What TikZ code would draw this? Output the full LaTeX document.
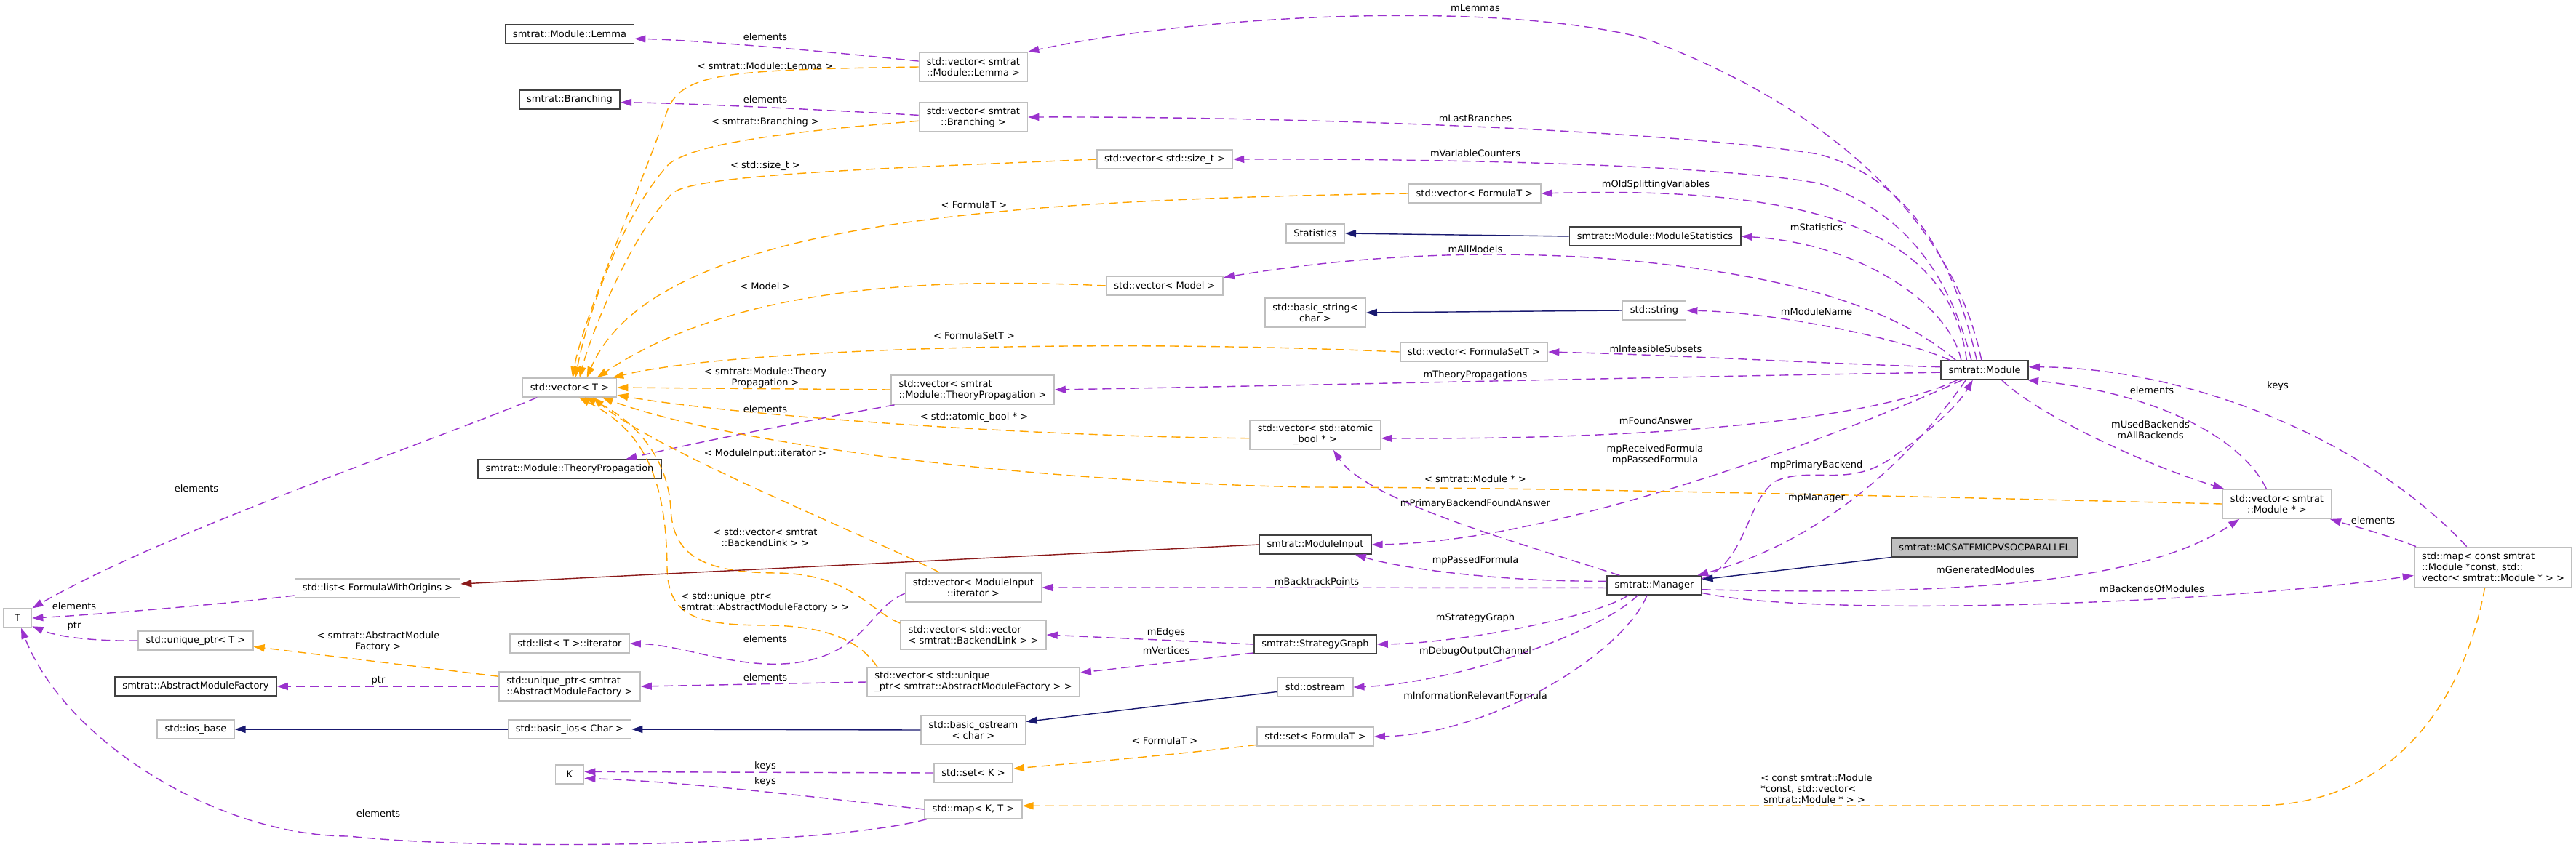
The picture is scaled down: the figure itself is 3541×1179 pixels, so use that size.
\documentclass[tikz,border=0pt]{standalone}
\usepackage{fontspec}
\setmainfont{DejaVu Sans}
\usetikzlibrary{arrows.meta}
\definecolor{usecol}{HTML}{9A32CD}
\definecolor{tmplcol}{HTML}{FFA500}
\definecolor{inhcol}{HTML}{191970}
\definecolor{privcol}{HTML}{8B1A1A}
\definecolor{boxgray}{HTML}{BFBFBF}
\definecolor{boxdark}{HTML}{404040}
\newcommand{\graphfont}{\fontsize{6.5pt}{7.5pt}\selectfont}

\begin{document}
\begin{tikzpicture}[x=0.5pt,y=-0.5pt,
 cls/.style={draw=boxgray,line width=0.9pt,font=\graphfont,inner xsep=5.2pt,inner ysep=1pt,minimum width=19.5pt,minimum height=12.75pt},
 doc/.style={cls,draw=boxdark},
 twoline/.style={minimum height=20pt},
 threeline/.style={minimum height=27.5pt},
 lab/.style={font=\graphfont,inner sep=0pt,align=center},
 member/.style={draw=usecol,line width=0.7pt,dash pattern=on 6pt off 3.5pt,-{Triangle[length=7.5pt,width=5pt]}},
 tmpl/.style={member,draw=tmplcol},
 inh/.style={draw=inhcol,line width=0.7pt,-{Triangle[length=7.5pt,width=5pt]}},
 priv/.style={inh,draw=privcol}]
\path[use as bounding box,fill=white] (0,0) rectangle (3541,1179);
\node[doc] (lemma) at (783,47) {smtrat::Module::Lemma};
\node[doc] (branch) at (783,137) {smtrat::Branching};
\node[cls] (vecT) at (783,533) {std::vector< T >};
\node[doc] (tprop) at (783,645) {smtrat::Module::TheoryPropagation};
\node[cls] (fwo) at (519,809) {std::list< FormulaWithOrigins >};
\node[cls] (T) at (24,850) {T};
\node[cls] (upT) at (269,881) {std::unique\_ptr< T >};
\node[cls] (litr) at (783,885) {std::list< T >::iterator};
\node[doc] (amf) at (269,944) {smtrat::AbstractModuleFactory};
\node[cls,twoline,align=left] (upAmf) at (783,944) {std::unique\_ptr< smtrat\\::AbstractModuleFactory >};
\node[cls] (iosb) at (269,1003) {std::ios\_base};
\node[cls] (bios) at (783,1003) {std::basic\_ios< Char >};
\node[cls] (K) at (783,1065) {K};
\node[cls,twoline,align=center] (vLemma) at (1338,92) {std::vector< smtrat\\::Module::Lemma >};
\node[cls,twoline,align=center] (vBranch) at (1338,161) {std::vector< smtrat\\::Branching >};
\node[cls] (vSize) at (1601,219) {std::vector< std::size\_t >};
\node[cls] (vForm) at (2027,266) {std::vector< FormulaT >};
\node[cls] (stats) at (1808,321) {Statistics};
\node[doc] (mstats) at (2275,325) {smtrat::Module::ModuleStatistics};
\node[cls] (vModel) at (1601,393) {std::vector< Model >};
\node[cls,twoline,align=center] (bstr) at (1808,430) {std::basic\_string<\\char >};
\node[cls] (str) at (2274,427) {std::string};
\node[cls] (vFset) at (2026,484) {std::vector< FormulaSetT >};
\node[doc] (module) at (2728,509) {smtrat::Module};
\node[cls,twoline,align=left] (vTprop) at (1337,536) {std::vector< smtrat\\::Module::TheoryPropagation >};
\node[cls,twoline,align=center] (vAtomic) at (1808,598) {std::vector< std::atomic\\\_bool * >};
\node[cls,twoline,align=center] (vModp) at (3130,693) {std::vector< smtrat\\::Module * >};
\node[doc] (minput) at (1808,749) {smtrat::ModuleInput};
\node[doc,fill=boxgray] (mcsat) at (2728,753) {smtrat::MCSATFMICPVSOCPARALLEL};
\node[doc] (manager) at (2274,805) {smtrat::Manager};
\node[cls,threeline,align=left] (mapMod) at (3427,780) {std::map< const smtrat\\::Module *const, std::\\vector< smtrat::Module * > >};
\node[cls,twoline,align=center] (vMiIt) at (1338,808) {std::vector< ModuleInput\\::iterator >};
\node[cls,twoline,align=left] (vvBl) at (1338,873) {std::vector< std::vector\\< smtrat::BackendLink > >};
\node[doc] (sgraph) at (1808,886) {smtrat::StrategyGraph};
\node[cls,twoline,align=left] (vUpAmf) at (1338,938) {std::vector< std::unique\\\_ptr< smtrat::AbstractModuleFactory > >};
\node[cls] (ostr) at (1808,945) {std::ostream};
\node[cls,twoline,align=center] (bostr) at (1338,1004) {std::basic\_ostream\\< char >};
\node[cls] (sForm) at (1808,1013) {std::set< FormulaT >};
\node[cls] (setK) at (1338,1063) {std::set< K >};
\node[cls] (mapKT) at (1338,1113) {std::map< K, T >};
\draw[member] (vLemma.174) .. controls (1150,72) and (960,55) .. (lemma.-4);
\draw[member] (vBranch.178) .. controls (1150,152) and (950,142) .. (branch.-3);
\draw[member] (vecT.197) .. controls (560,620) and (230,730) .. (T.north east);
\draw[member] (fwo.185) .. controls (300,832) and (120,846) .. (T.east);
\draw[member] (upT.west) .. controls (130,882) and (80,876) .. (T.-29);
\draw[member] (mapKT.-168) .. controls (1130,1165) and (660,1170) .. (480,1150) .. controls (300,1150) and (90,1020) .. (T.-70);
\draw[member] (vTprop.-169) .. controls (1100,580) and (950,610) .. (tprop.10);
\draw[member] (vMiIt.185) .. controls (1195,835) and (1190,900) .. (1090,912) .. controls (1010,920) and (940,887) .. (litr.east);
\draw[member] (vUpAmf.west) -- (upAmf.east);
\draw[member] (upAmf.west) -- (amf.east);
\draw[member] (setK.west) -- (K.10);
\draw[member] (mapKT.west) .. controls (1150,1100) and (950,1075) .. (K.-15);
\draw[member] (module.107) .. controls (2690,330) and (2550,160) .. (2259,52) .. controls (2050,0) and (1650,20) .. (vLemma.north east);
\draw[member] (module.128) .. controls (2690,380) and (2640,250) .. (2500,212) .. controls (2300,180) and (1800,160) .. (vBranch.east);
\draw[member] (module.143) .. controls (2680,380) and (2620,290) .. (2500,252) .. controls (2350,225) and (1950,218) .. (vSize.east);
\draw[member] (module.151) .. controls (2680,320) and (2500,255) .. (vForm.east);
\draw[member] (module.157) .. controls (2680,420) and (2560,335) .. (mstats.east);
\draw[member] (module.161) .. controls (2600,420) and (2450,375) .. (2200,355) .. controls (1980,340) and (1800,362) .. (vModel.8);
\draw[member] (module.164) .. controls (2620,468) and (2450,430) .. (str.east);
\draw[member] (module.176) .. controls (2500,500) and (2300,488) .. (vFset.east);
\draw[member] (module.183) .. controls (2300,518) and (1800,530) .. (vTprop.east);
\draw[member] (module.-160) .. controls (2580,575) and (2300,605) .. (vAtomic.-3);
\draw[member] (module.-156) .. controls (2550,590) and (2150,745) .. (minput.east);
\draw[member] (module.-152) .. controls (2620,640) and (2500,745) .. (manager.13);
\draw[member] (manager.8) .. controls (2400,775) and (2400,690) .. (2440,662) .. controls (2490,640) and (2540,672) .. (2600,630) .. controls (2650,595) and (2690,560) .. (module.-140);
\draw[member] (module.-30) .. controls (2800,570) and (2950,640) .. (vModp.164);
\draw[member] (vModp.125) .. controls (3080,600) and (2960,540) .. (module.-13);
\draw[member] (mapMod.142) .. controls (3250,600) and (3000,505) .. (module.4);
\draw[member] (mapMod.165) .. controls (3280,735) and (3230,722) .. (vModp.-16);
\draw[member] (manager.164) .. controls (2100,750) and (1880,690) .. (vAtomic.-40);
\draw[member] (manager.175) .. controls (2050,800) and (1920,780) .. (minput.-14);
\draw[member] (manager.183) -- (vMiIt.east);
\draw[member] (manager.-159) .. controls (2190,850) and (2000,885) .. (sgraph.east);
\draw[member] (manager.-149) .. controls (2200,870) and (2000,940) .. (ostr.east);
\draw[member] (manager.-126) .. controls (2230,900) and (2050,1010) .. (sForm.east);
\draw[member] (manager.-5) .. controls (2700,820) and (2950,800) .. (vModp.-158);
\draw[member] (manager.-9) .. controls (2500,850) and (3050,830) .. (mapMod.186);
\draw[member] (sgraph.west) -- (vvBl.east);
\draw[member] (sgraph.188) -- (vUpAmf.5);
\draw[tmpl] (vLemma.west) .. controls (1000,96) and (940,100) .. (918,150) .. controls (880,260) and (800,440) .. (vecT.73);
\draw[tmpl] (vBranch.184) .. controls (1100,180) and (960,195) .. (920,225) .. controls (860,290) and (810,420) .. (vecT.60);
\draw[tmpl] (vSize.west) .. controls (1200,232) and (960,240) .. (925,265) .. controls (870,320) and (815,450) .. (vecT.45);
\draw[tmpl] (vForm.west) .. controls (1400,275) and (900,300) .. (vecT.30);
\draw[tmpl] (vModel.west) .. controls (1250,380) and (1000,400) .. (vecT.20);
\draw[tmpl] (vFset.west) .. controls (1500,465) and (1000,480) .. (vecT.13);
\draw[tmpl] (vTprop.west) -- (vecT.east);
\draw[tmpl] (vAtomic.183) .. controls (1400,600) and (1000,570) .. (vecT.-9);
\draw[tmpl] (vModp.west) .. controls (2600,682) and (2100,670) .. (1800,670) .. controls (1400,662) and (1000,610) .. (vecT.-17);
\draw[tmpl] (vMiIt.156) .. controls (1200,740) and (900,620) .. (vecT.-23);
\draw[tmpl] (vvBl.171) .. controls (1195,840) and (1170,790) .. (1070,788) .. controls (960,788) and (925,760) .. (922,700) .. controls (918,620) and (860,570) .. (vecT.-33);
\draw[tmpl] (vUpAmf.171) .. controls (1190,895) and (1160,862) .. (1060,860) .. controls (960,860) and (918,850) .. (917,780) .. controls (916,650) and (880,590) .. (vecT.-47);
\draw[tmpl] (upAmf.172) -- (upT.-6.5);
\draw[tmpl] (sForm.188) .. controls (1600,1040) and (1450,1052) .. (setK.6);
\draw[tmpl] (mapMod.-112) .. controls (3390,950) and (3300,1108) .. (3100,1108) -- (mapKT.4);
\draw[inh] (mstats.west) -- (stats.east);
\draw[inh] (str.west) -- (bstr.east);
\draw[inh] (ostr.187) -- (bostr.9);
\draw[inh] (bostr.west) -- (bios.east);
\draw[inh] (bios.west) -- (iosb.east);
\draw[inh] (mcsat.186) -- (manager.7);
\draw[priv] (minput.west) -- (fwo.3);
\node[lab] (l1) at (1052,51) {elements};
\node[lab] (l2) at (1052,91) {< smtrat::Module::Lemma >};
\node[lab] (l3) at (1052,137) {elements};
\node[lab] (l4) at (1052,168) {< smtrat::Branching >};
\node[lab] (l5) at (1052,228) {< std::size\_t >};
\node[lab] (l6) at (1339,282) {< FormulaT >};
\node[lab] (l7) at (1052,394) {< Model >};
\node[lab] (l8) at (1339,462) {< FormulaSetT >};
\node[lab] (l9) at (1052,519) {< smtrat::Module::Theory\\Propagation >};
\node[lab] (l10) at (1052,563) {elements};
\node[lab] (l11) at (1339,574) {< std::atomic\_bool * >};
\node[lab] (l12) at (1052,624) {< ModuleInput::iterator >};
\node[lab] (l13) at (1052,739) {< std::vector< smtrat\\::BackendLink > >};
\node[lab,align=left] (l14) at (1052,828) {< std::unique\_ptr<\\smtrat::AbstractModuleFactory > >};
\node[lab] (l15) at (1052,879) {elements};
\node[lab] (l16) at (1052,932) {elements};
\node[lab] (l17) at (1052,1054) {keys};
\node[lab] (l18) at (1052,1075) {keys};
\node[lab] (l19) at (1601,1019) {< FormulaT >};
\node[lab] (l20) at (1603,870) {mEdges};
\node[lab] (l21) at (1603,895) {mVertices};
\node[lab] (l22) at (1810,800) {mBacktrackPoints};
\node[lab] (l23) at (270,672) {elements};
\node[lab] (l24) at (102,834) {elements};
\node[lab] (l25) at (102,861) {ptr};
\node[lab] (l26) at (520,882) {< smtrat::AbstractModule\\Factory >};
\node[lab] (l27) at (520,936) {ptr};
\node[lab] (l28) at (520,1119) {elements};
\node[lab] (l29) at (2028,11) {mLemmas};
\node[lab] (l30) at (2028,163) {mLastBranches};
\node[lab] (l31) at (2028,211) {mVariableCounters};
\node[lab] (l32) at (2276,254) {mOldSplittingVariables};
\node[lab] (l33) at (2497,313) {mStatistics};
\node[lab] (l34) at (2028,343) {mAllModels};
\node[lab] (l35) at (2497,429) {mModuleName};
\node[lab] (l36) at (2276,480) {mInfeasibleSubsets};
\node[lab] (l37) at (2028,516) {mTheoryPropagations};
\node[lab] (l38) at (2276,579) {mFoundAnswer};
\node[lab] (l39) at (2275,625) {mpReceivedFormula\\mpPassedFormula};
\node[lab] (l40) at (2497,640) {mpPrimaryBackend};
\node[lab] (l41) at (2028,659) {< smtrat::Module * >};
\node[lab] (l42) at (2497,685) {mpManager};
\node[lab] (l43) at (2028,693) {mPrimaryBackendFoundAnswer};
\node[lab] (l44) at (2028,771) {mpPassedFormula};
\node[lab] (l45) at (2729,784) {mGeneratedModules};
\node[lab] (l46) at (2028,850) {mStrategyGraph};
\node[lab] (l47) at (2028,896) {mDebugOutputChannel};
\node[lab] (l48) at (2028,957) {mInformationRelevantFormula};
\node[lab,align=left] (l49) at (2497,1085) {< const smtrat::Module\\*const, std::vector<\\\hspace*{0.3em}smtrat::Module * > >};
\node[lab] (l50) at (2958,537) {elements};
\node[lab] (l51) at (3131,531) {keys};
\node[lab] (l52) at (2956,591) {mUsedBackends\\mAllBackends};
\node[lab] (l53) at (3262,716) {elements};
\node[lab] (l54) at (2958,810) {mBackendsOfModules};
\end{tikzpicture}
\end{document}
